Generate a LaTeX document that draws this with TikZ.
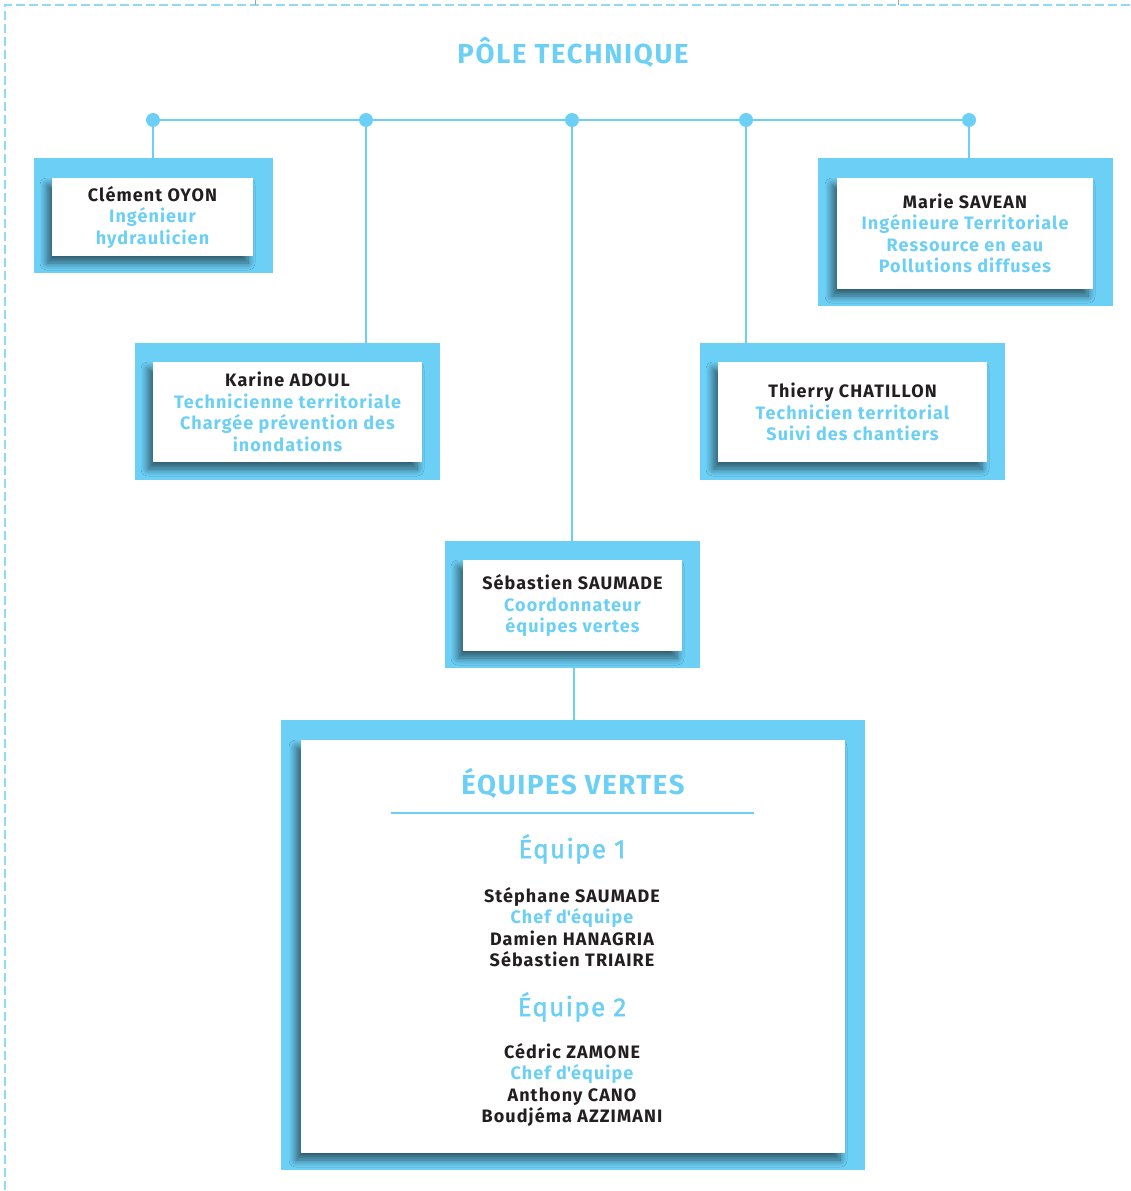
\documentclass[tikz,border=0pt]{standalone}
\usepackage{fontspec}
\setmainfont{Fira Sans}[LetterSpace=6]
\newfontfamily\medfont{Fira Sans}[LetterSpace=5, FakeBold=1.6]
\usetikzlibrary{shadows.blur}
\definecolor{poleblue}{HTML}{6CCFF6}
\definecolor{poledash}{HTML}{8FDBF7}
\definecolor{poleink}{HTML}{231F20}
\newcommand{\fonction}[1]{\textcolor{poleblue}{#1}}

\begin{document}
\begin{tikzpicture}[x=1pt, y=-1pt,
    frame/.style={fill=poleblue, inner sep=0pt},
    card/.style={fill=white, inner sep=0pt, align=center, text=poleink,
      font=\fontsize{18}{21.5}\selectfont\bfseries,
      blur shadow={shadow xshift=-5pt, shadow yshift=-7pt, shadow blur radius=7pt,
        shadow blur steps=10, shadow opacity=55}},
    dot/.style={circle, fill=poleblue, inner sep=0pt, minimum size=14pt},
    link/.style={poleblue, line width=1.5pt},
    heading/.style={text=poleblue, font=\fontsize{27.5}{30}\selectfont\bfseries},
    team/.style={text=poleblue, font=\fontsize{26}{30}\selectfont\medfont},
    members/.style={align=center, text=poleink, font=\fontsize{18}{21.5}\selectfont\bfseries}]
  \useasboundingbox (0,0) rectangle (1130,1191);
  % page frame
  \draw[poledash, line width=2pt, dash pattern=on 9pt off 4pt] (1130,5) -- (5,5) -- (5,1191);
  \draw[black!35, line width=0.8pt] (255,0) -- (255,5) (898,0) -- (898,5);

  \node[heading] (pole) at (573,52) {PÔLE TECHNIQUE};

  % branch points on the top rail
  \foreach \n/\x in {1/153, 2/366, 3/572, 4/746, 5/969}
    \node[dot] (d\n) at (\x,120) {};
  \draw[link] (d1) -- (d5);

  % agents
  \node[frame, minimum width=239pt, minimum height=115pt] (fOyon) at (153.5,215.5) {};
  \node[card, minimum width=201pt, minimum height=78pt] (oyon) at (152.5,217)
    {Clément OYON\\\fonction{Ingénieur}\\\fonction{hydraulicien}};

  \node[frame, minimum width=295pt, minimum height=148pt] (fSavean) at (965.5,232) {};
  \node[card, minimum width=256pt, minimum height=111pt] (savean) at (965,233.5)
    {Marie SAVEAN\\\fonction{Ingénieure Territoriale}\\\fonction{Ressource en eau}\\\fonction{Pollutions diffuses}};

  \node[frame, minimum width=305pt, minimum height=137pt] (fAdoul) at (287.5,411.5) {};
  \node[card, minimum width=269pt, minimum height=100pt] (adoul) at (287.5,412)
    {Karine ADOUL\\\fonction{Technicienne territoriale}\\\fonction{Chargée prévention des}\\\fonction{inondations}};

  \node[frame, minimum width=305pt, minimum height=137pt] (fChatillon) at (852.5,411.5) {};
  \node[card, minimum width=269pt, minimum height=100pt] (chatillon) at (852.5,412)
    {Thierry CHATILLON\\\fonction{Technicien territorial}\\\fonction{Suivi des chantiers}};

  \node[frame, minimum width=255pt, minimum height=127pt] (fSaumade) at (572.5,604.5) {};
  \node[card, minimum width=219pt, minimum height=91pt] (saumade) at (572.5,605.5)
    {Sébastien SAUMADE\\\fonction{Coordonnateur}\\\fonction{équipes vertes}};

  \draw[link] (d1) -- (d1 |- fOyon.north);
  \draw[link] (d2) -- (d2 |- fAdoul.north);
  \draw[link] (d3) -- (d3 |- fSaumade.north);
  \draw[link] (d4) -- (d4 |- fChatillon.north);
  \draw[link] (d5) -- (d5 |- fSavean.north);

  % green teams
  \node[frame, minimum width=584pt, minimum height=450pt] (fEquipes) at (573,945) {};
  \node[card, minimum width=544pt, minimum height=413pt] (equipes) at (573,946.5) {};
  \draw[link] (fSaumade.south -| 574,0) -- (fEquipes.north -| 574,0);

  \node[heading] (titre) at (573,783) {ÉQUIPES VERTES};
  \coordinate (r1) at (391,813);
  \coordinate (r2) at (754,813);
  \draw[poleblue, line width=1.3pt] (r1) -- (r2);

  \node[team] (eq1) at (572,849) {Équipe 1};
  \node[members] (membres1) at (572,927)
    {Stéphane SAUMADE\\\fonction{Chef d\textquotesingle équipe}\\Damien HANAGRIA\\Sébastien TRIAIRE};
  \node[team] (eq2) at (572,1007) {Équipe 2};
  \node[members] (membres2) at (572,1085)
    {Cédric ZAMONE\\\fonction{Chef d\textquotesingle équipe}\\Anthony CANO\\Boudjéma AZZIMANI};
\end{tikzpicture}
\end{document}
